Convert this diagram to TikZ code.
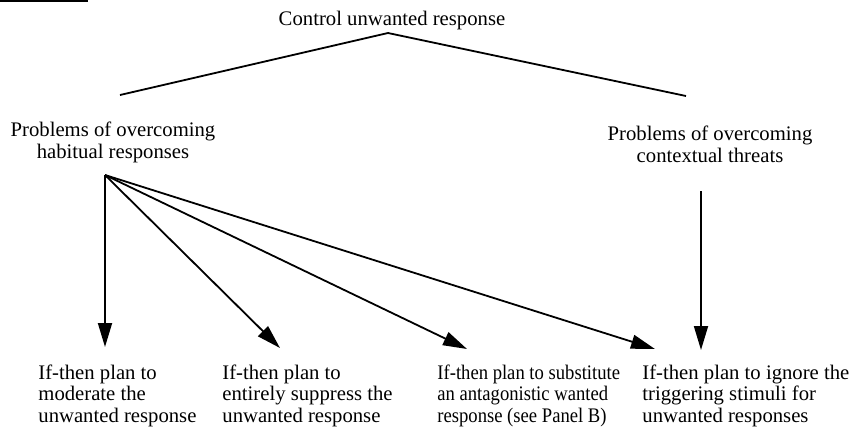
\documentclass[tikz,border=0pt]{standalone}
\usepackage{fontspec}
\setmainfont{Liberation Serif}
\newfontfamily\narrowrm[FakeStretch=0.9]{Liberation Serif}
\usetikzlibrary{arrows.meta}

\begin{document}
\begin{tikzpicture}[x=0.5pt,y=-0.5pt,
    txt/.style={inner sep=0pt,font=\fontsize{10.35}{10.65}\selectfont},
    plan/.style={txt,align=left,anchor=base west},
    prob/.style={txt,align=center,anchor=base},
    link/.style={line width=0.9pt},
    arr/.style={link,-{Triangle[length=12pt,width=7pt]}}]
    \useasboundingbox (0,0) rectangle (857,435);
    \draw[link] (0,1) -- (88,1);

    \node[txt,anchor=base] (ctrl) at (392,25) {Control unwanted response};
    \node[prob] (habit) at (113,158) {Problems of overcoming\\habitual responses};
    \node[prob] (context) at (710,162) {Problems of overcoming\\contextual threats};

    \coordinate (apex) at (388,33);
    \coordinate (habitend) at (120,95);
    \coordinate (contextend) at (686,96);
    \draw[link] (habitend) -- (apex) -- (contextend);

    \node[plan] (moderate) at (38,422) {If-then plan to\\moderate the\\unwanted response};
    \node[plan] (suppress) at (222,422) {If-then plan to\\entirely suppress the\\unwanted response};
    \node[plan,font=\narrowrm\fontsize{10.35}{10.65}\selectfont] (substitute) at (437,422) {If-then plan to substitute\\an antagonistic wanted\\response (see Panel B)};
    \node[plan] (ignore) at (642,422) {If-then plan to ignore the\\triggering stimuli for\\unwanted responses};

    \coordinate (hsrc) at (105,175);
    \coordinate (csrc) at (701,191);
    \coordinate (moderatetip) at (105,347);
    \coordinate (suppresstip) at (280,348);
    \coordinate (substitutetip) at (467,349);
    \coordinate (ignoretip) at (655,349);
    \coordinate (contexttip) at (701,350);
    \foreach \t in {moderatetip,suppresstip,substitutetip,ignoretip}
    {
      \draw[arr] (hsrc) -- (\t);
    }
    \draw[arr] (csrc) -- (contexttip);
\end{tikzpicture}
\end{document}
